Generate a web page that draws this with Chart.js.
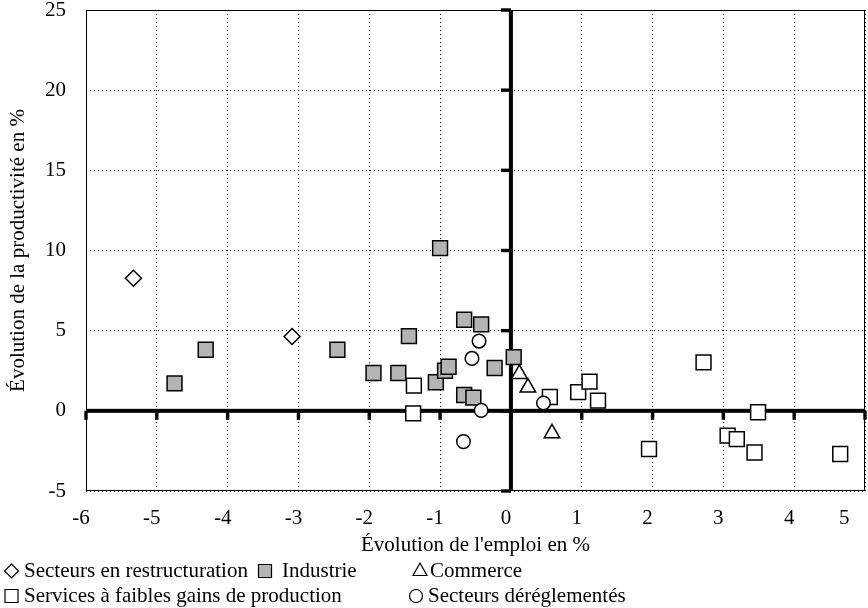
<!DOCTYPE html>
<html>
<head>
<meta charset="utf-8">
<script src="https://cdn.jsdelivr.net/npm/chart.js@4/dist/chart.umd.min.js"></script>
<style>
html,body{margin:0;padding:0;background:#fff;}
#wrap{width:868px;height:608px;position:relative;}
</style>
</head>
<body>
<div id="wrap"><canvas id="c" width="868" height="608"></canvas></div>
<script>
// ---- Data ----
const seriesLabels = [
  "Secteurs en restructuration",
  "Industrie",
  "Commerce",
  "Services à faibles gains de production",
  "Secteurs déréglementés"
];
const restructX = [-5.33, -3.09];
const restructY = [8.27, 4.64];
const industrieX = [-4.75, -4.31, -2.45, -1.94, -1.59, -1.44, -1.00, -1.06, -0.93, -0.88, -0.66, -0.42, -0.66, -0.53, -0.23, 0.04];
const industrieY = [1.71, 3.81, 3.81, 2.36, 2.36, 4.66, 10.15, 1.78, 2.50, 2.75, 5.68, 5.39, 0.99, 0.82, 2.67, 3.35];
const commerceX = [0.12, 0.24, 0.58];
const commerceY = [2.30, 1.45, -1.40];
const servicesX = [-1.37, -1.38, 0.55, 0.95, 1.11, 1.23, 2.72, 3.49, 1.95, 3.06, 3.19, 3.44, 4.65];
const servicesY = [1.57, -0.16, 0.86, 1.17, 1.82, 0.64, 3.02, -0.09, -2.38, -1.55, -1.76, -2.60, -2.69];
const deregX = [-0.45, -0.55, -0.42, -0.67, 0.46];
const deregY = [4.35, 3.27, 0.03, -1.92, 0.49];
const xTicks = [-6, -5, -4, -3, -2, -1, 0, 1, 2, 3, 4, 5];
const yTicks = [-5, 0, 5, 10, 15, 20, 25];
const xTitle = "Évolution de l'emploi en %";
const yTitle = "Évolution de la productivité en %";

const FONT = "'Liberation Serif', 'Times New Roman', serif";
const FS = 21;
const pts = (xs, ys) => xs.map((x, i) => ({x: x, y: ys[i]}));

const axesPlugin = {
  id: 'axesPlugin',
  beforeDatasetsDraw(chart) {
    const ctx = chart.ctx, a = chart.chartArea;
    const xs = chart.scales.x, ys = chart.scales.y;
    ctx.save();
    ctx.strokeStyle = '#000';
    ctx.lineWidth = 1;
    ctx.strokeRect(Math.round(a.left) + 0.5, Math.round(a.top) + 0.5, Math.round(a.right - a.left) - 1, Math.round(a.bottom - a.top) - 1);
    const x0 = xs.getPixelForValue(0), y0 = ys.getPixelForValue(0);
    ctx.fillStyle = '#000';
    ctx.fillRect(a.left, y0 - 2, a.right - a.left, 4);
    ctx.fillRect(x0 - 2, a.top, 4, a.bottom - a.top);
    xTicks.forEach(v => {
      const px = xs.getPixelForValue(v);
      ctx.fillRect(px - 1.7, y0, 3.4, 9);
    });
    yTicks.forEach(v => {
      const py = ys.getPixelForValue(v);
      ctx.fillRect(x0 - 10, py - 1.7, 10, 3.4);
    });
    ctx.restore();
  },
  afterDraw(chart) {
    const ctx = chart.ctx;
    const ds = chart.data.datasets;
    const items = [
      {i: 0, mx: 11.5, my: 571, tx: 24},
      {i: 1, mx: 265, my: 571, tx: 282},
      {i: 2, mx: 420, my: 571, tx: 430},
      {i: 3, mx: 11.5, my: 596, tx: 24},
      {i: 4, mx: 416, my: 596, tx: 428}
    ];
    ctx.save();
    ctx.font = FS + "px " + FONT;
    ctx.textBaseline = 'middle';
    ctx.textAlign = 'left';
    items.forEach(it => {
      const d = ds[it.i];
      ctx.lineWidth = 1.2;
      ctx.strokeStyle = '#000';
      ctx.fillStyle = d.backgroundColor;
      ctx.beginPath();
      const x = it.mx, y = it.my;
      if (d.pointStyle === 'rectRot') {
        const r = 7;
        ctx.moveTo(x, y - r); ctx.lineTo(x + r, y); ctx.lineTo(x, y + r); ctx.lineTo(x - r, y); ctx.closePath();
      } else if (d.pointStyle === 'rect') {
        const s = 6.5;
        ctx.rect(x - s, y - s, 2 * s, 2 * s);
      } else if (d.pointStyle === 'triangle') {
        const r = 8;
        ctx.moveTo(x, y - r); ctx.lineTo(x + r * 0.866, y + r / 2 + 0.5); ctx.lineTo(x - r * 0.866, y + r / 2 + 0.5); ctx.closePath();
      } else {
        ctx.arc(x, y, 6.5, 0, Math.PI * 2);
      }
      ctx.fill(); ctx.stroke();
      ctx.fillStyle = '#000';
      ctx.fillText(d.label, it.tx, y);
    });
    ctx.restore();
  }
};

const common = {borderColor: '#000', borderWidth: 1.5, showLine: false};
new Chart(document.getElementById('c'), {
  type: 'scatter',
  data: {
    datasets: [
      Object.assign({label: seriesLabels[0], data: pts(restructX, restructY), pointStyle: 'rectRot', pointRadius: 8, backgroundColor: '#fff', order: 3}, common),
      Object.assign({label: seriesLabels[1], data: pts(industrieX, industrieY), pointStyle: 'rect', pointRadius: 10.5, backgroundColor: '#b4b4b4', order: 4}, common),
      Object.assign({label: seriesLabels[2], data: pts(commerceX, commerceY), pointStyle: 'triangle', pointRadius: 9, backgroundColor: '#fff', order: 2}, common),
      Object.assign({label: seriesLabels[3], data: pts(servicesX, servicesY), pointStyle: 'rect', pointRadius: 10.5, backgroundColor: '#fff', order: 5}, common),
      Object.assign({label: seriesLabels[4], data: pts(deregX, deregY), pointStyle: 'circle', pointRadius: 6.8, backgroundColor: '#fff', order: 1}, common)
    ]
  },
  options: {
    responsive: false,
    animation: false,
    events: [],
    layout: {autoPadding: false, padding: {left: 0, right: 3, top: 10, bottom: 50}},
    plugins: {legend: {display: false}, tooltip: {enabled: false}},
    scales: {
      x: {
        type: 'linear', min: -6, max: 5,
        afterBuildTicks: s => { s.ticks = xTicks.map(v => ({value: v})); },
        afterFit: s => { s.height = 67; s.paddingLeft = 0; s.paddingRight = 0; },
        grid: {color: '#000', lineWidth: 1, drawTicks: false},
        border: {display: false, dash: [1, 3]},
        ticks: {
          color: '#000', font: {family: FONT, size: FS}, padding: 15, maxRotation: 0, autoSkip: false,
          labelOffset: -5,
          callback: v => (v === xTicks[xTicks.length - 1] ? String(v) + '      ' : String(v))
        },
        title: {display: true, text: xTitle, color: '#000', font: {family: FONT, size: FS}, padding: 0}
      },
      y: {
        type: 'linear', min: -5, max: 25,
        afterBuildTicks: s => { s.ticks = yTicks.map(v => ({value: v})); },
        afterFit: s => { s.width = 86; s.paddingTop = 0; s.paddingBottom = 0; },
        grid: {color: '#000', lineWidth: 1, drawTicks: false},
        border: {display: false, dash: [1, 3]},
        ticks: {color: '#000', font: {family: FONT, size: FS}, padding: 20, autoSkip: false},
        title: {display: true, text: yTitle, color: '#000', font: {family: FONT, size: FS}, padding: {top: 6, bottom: 0}}
      }
    }
  },
  plugins: [axesPlugin]
});
</script>
</body>
</html>
